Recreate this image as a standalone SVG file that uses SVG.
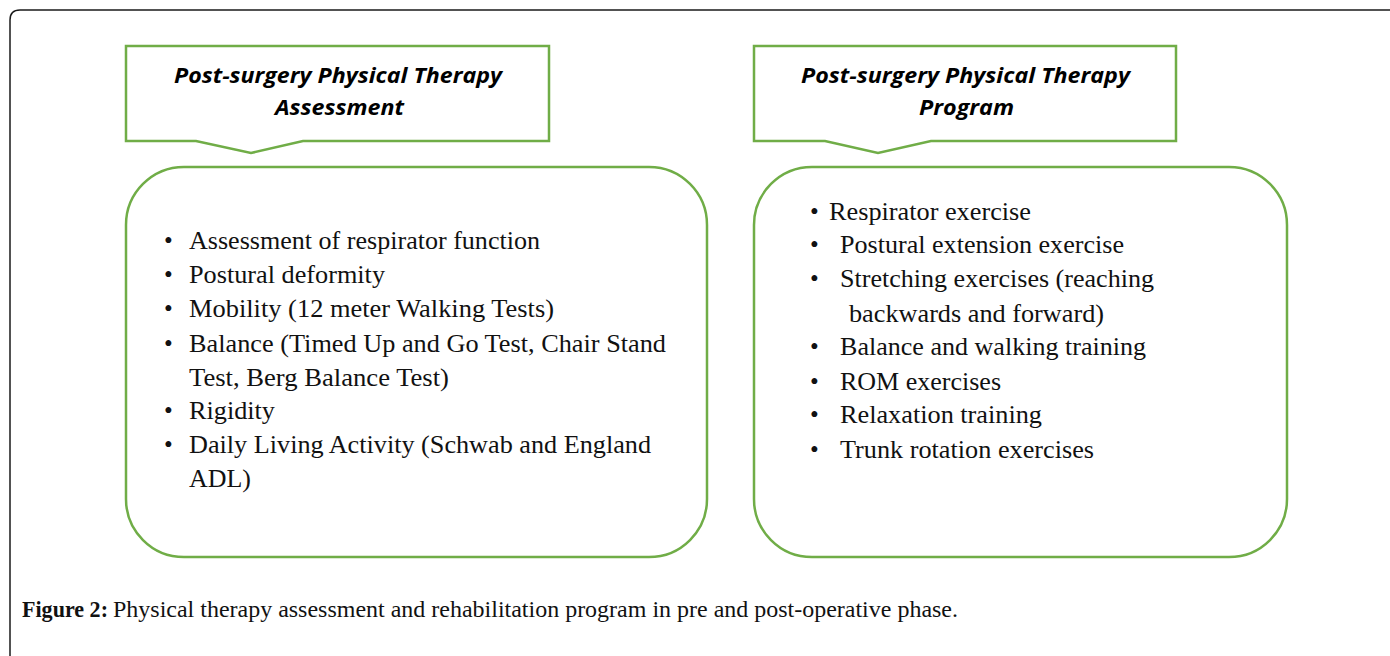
<svg xmlns="http://www.w3.org/2000/svg" width="1390" height="656" viewBox="0 0 1390 656">
<style>
.frame{fill:none;stroke:#1a1a1a;stroke-width:1.5}
.g{fill:#fff;stroke:#70AD47;stroke-width:2.5}
.h{font-family:"Open Sans","Liberation Sans",sans-serif;font-weight:bold;font-style:italic;font-size:22px;fill:#000}
.b{font-family:"Liberation Serif","Times New Roman",serif;font-size:25px;fill:#111}
.c{font-family:"Liberation Serif","Times New Roman",serif;font-size:23px;fill:#111}
</style>
<rect width="1390" height="656" fill="#fff"/>
<path class="frame" d="M10,656 L10,20 Q10,10 20,10 L1390,10"/>
<g id="header-assessment">
<path class="g" d="M126,46 H549 V141 H303 L251,153 L196,141 H126 Z"/>
<text class="h" x="174" y="83" textLength="328" lengthAdjust="spacingAndGlyphs">Post-surgery Physical Therapy</text>
<text class="h" x="275" y="115" textLength="129" lengthAdjust="spacingAndGlyphs">Assessment</text>
</g>
<g id="header-program">
<path class="g" d="M754,46 H1176 V141 H931 L878,153 L825,141 H754 Z"/>
<text class="h" x="801" y="83" textLength="329" lengthAdjust="spacingAndGlyphs">Post-surgery Physical Therapy</text>
<text class="h" x="919" y="115" textLength="95" lengthAdjust="spacingAndGlyphs">Program</text>
</g>
<g id="box-assessment">
<rect class="g" x="126" y="167" width="581" height="390" rx="58" ry="58"/>
<g class="b">
<text x="164" y="249">•</text><text x="189" y="249" textLength="351" lengthAdjust="spacingAndGlyphs">Assessment of respirator function</text>
<text x="164" y="283">•</text><text x="189" y="283" textLength="196" lengthAdjust="spacingAndGlyphs">Postural deformity</text>
<text x="164" y="317">•</text><text x="189" y="317" textLength="365" lengthAdjust="spacingAndGlyphs">Mobility (12 meter Walking Tests)</text>
<text x="164" y="352">•</text><text x="189" y="352" textLength="477" lengthAdjust="spacingAndGlyphs">Balance (Timed Up and Go Test, Chair Stand</text>
<text x="189" y="386" textLength="260" lengthAdjust="spacingAndGlyphs">Test, Berg Balance Test)</text>
<text x="164" y="419">•</text><text x="189" y="419" textLength="86" lengthAdjust="spacingAndGlyphs">Rigidity</text>
<text x="164" y="453">•</text><text x="189" y="453" textLength="462" lengthAdjust="spacingAndGlyphs">Daily Living Activity (Schwab and England</text>
<text x="189" y="487" textLength="62" lengthAdjust="spacingAndGlyphs">ADL)</text>
</g>
</g>
<g id="box-program">
<rect class="g" x="754" y="167" width="533" height="390" rx="58" ry="58"/>
<g class="b">
<text x="810" y="220">•</text><text x="829" y="220" textLength="202" lengthAdjust="spacingAndGlyphs">Respirator exercise</text>
<text x="810" y="253">•</text><text x="840" y="253" textLength="284" lengthAdjust="spacingAndGlyphs">Postural extension exercise</text>
<text x="810" y="287">•</text><text x="840" y="287" textLength="314" lengthAdjust="spacingAndGlyphs">Stretching exercises (reaching</text>
<text x="849" y="322" textLength="255" lengthAdjust="spacingAndGlyphs">backwards and forward)</text>
<text x="810" y="355">•</text><text x="840" y="355" textLength="306" lengthAdjust="spacingAndGlyphs">Balance and walking training</text>
<text x="810" y="390">•</text><text x="840" y="390" textLength="161" lengthAdjust="spacingAndGlyphs">ROM exercises</text>
<text x="810" y="423">•</text><text x="840" y="423" textLength="202" lengthAdjust="spacingAndGlyphs">Relaxation training</text>
<text x="810" y="458">•</text><text x="840" y="458" textLength="254" lengthAdjust="spacingAndGlyphs">Trunk rotation exercises</text>
</g>
</g>
<g id="connectors"></g>
<g id="caption">
<text class="c" x="22" y="617"><tspan font-weight="bold" textLength="86" lengthAdjust="spacingAndGlyphs">Figure 2:</tspan></text>
<text class="c" x="113" y="617" textLength="845" lengthAdjust="spacingAndGlyphs">Physical therapy assessment and rehabilitation program in pre and post-operative phase.</text>
</g>
</svg>
